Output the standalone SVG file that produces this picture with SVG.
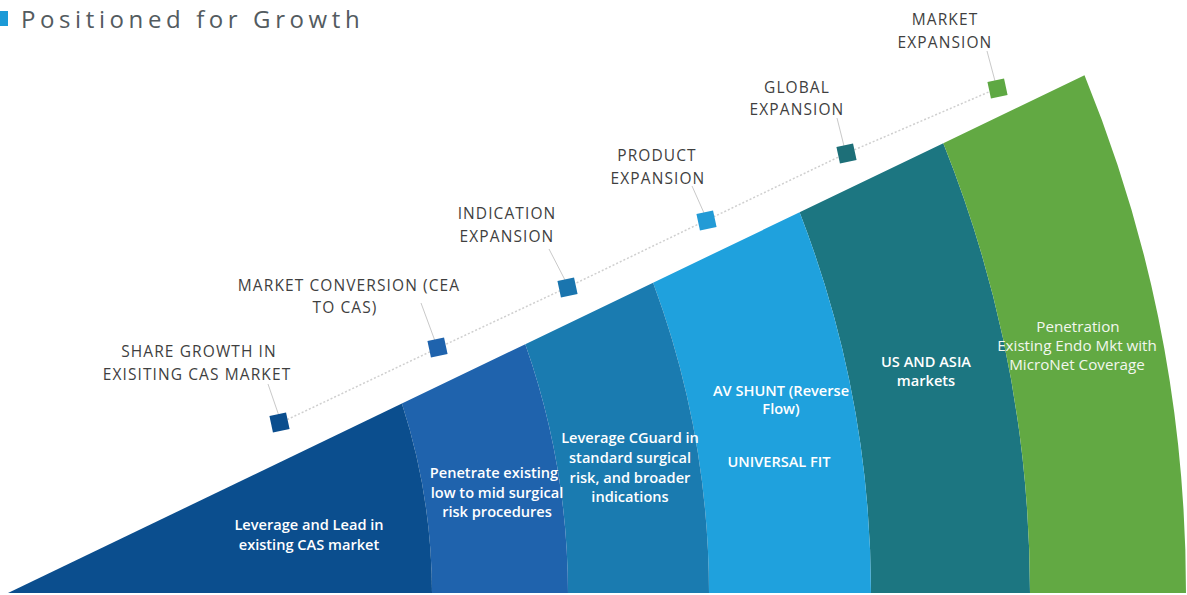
<svg xmlns="http://www.w3.org/2000/svg" width="1187" height="595" viewBox="0 0 1187 595">
  <style>
    .lbl { font-family: "Open Sans", "Liberation Sans", sans-serif; font-size: 15.5px; letter-spacing: 1.1px; fill: #3f3f3f; text-anchor: middle; }
    .inner { font-family: "Open Sans", "Liberation Sans", sans-serif; font-size: 14.6px; font-weight: 600; fill: #ffffff; text-anchor: middle; }
    .inner-light { font-family: "Open Sans", "Liberation Sans", sans-serif; font-size: 15.2px; fill: #f2f7ee; text-anchor: middle; }
    .leader { stroke: #c9c9c9; stroke-width: 1; fill: none; }
    .track { stroke: #cfcfcf; stroke-width: 1.5; stroke-dasharray: 2 2; fill: none; }
  </style>
  <rect width="1187" height="595" fill="#ffffff"/>

  <!-- title -->
  <g id="title">
    <rect x="0" y="11" width="8" height="15" fill="#1b9ad7"/>
    <text x="21" y="28" font-family="'Open Sans', 'Liberation Sans', sans-serif" font-size="24" letter-spacing="4.6" fill="#535b60">Positioned for Growth</text>
  </g>

  <!-- wedge segments: concentric arcs around (-185,594), cut by the rising diagonal.
       Order chosen so captions that run over a neighbouring band stay on top. -->
  <g id="seg-5">
    <path d="M 799.6 212.3 L 943.3 143.2 A 1215 1215 0 0 1 1030 593 L 871 593 A 1056 1056 0 0 0 799.6 212.3 Z" fill="#1c7681"/>
    <text class="inner" x="926" y="367">US AND ASIA</text>
    <text class="inner" x="926" y="386">markets</text>
  </g>
  <g id="seg-4">
    <path d="M 653.1 282.7 L 799.6 212.3 A 1056 1056 0 0 1 871 593 L 709 593 A 894 894 0 0 0 653.1 282.7 Z" fill="#1fa1dd"/>
    <text class="inner" x="781" y="396">AV SHUNT (Reverse</text>
    <text class="inner" x="781" y="414">Flow)</text>
    <text class="inner" x="779" y="467">UNIVERSAL FIT</text>
  </g>
  <g id="seg-3">
    <path d="M 525.3 344.2 L 653.1 282.7 A 894 894 0 0 1 709 593 L 568 593 A 753 753 0 0 0 525.3 344.2 Z" fill="#1a7bb0"/>
    <text class="inner" x="630" y="443">Leverage CGuard in</text>
    <text class="inner" x="630" y="463">standard surgical</text>
    <text class="inner" x="630" y="483">risk, and broader</text>
    <text class="inner" x="630" y="502">indications</text>
  </g>
  <g id="seg-2">
    <path d="M 401.9 403.6 L 525.3 344.2 A 753 753 0 0 1 568 593 L 432 593 A 617 617 0 0 0 401.9 403.6 Z" fill="#1f63ad"/>
    <text class="inner" x="494" y="478">Penetrate existing</text>
    <text class="inner" x="497" y="498">low to mid surgical</text>
    <text class="inner" x="497" y="517">risk procedures</text>
  </g>
  <g id="seg-1">
    <path d="M 8 593 L 401.9 403.6 A 617 617 0 0 1 432 593 Z" fill="#0b4e8e"/>
    <text class="inner" x="309" y="530">Leverage and Lead in</text>
    <text class="inner" x="309" y="550">existing CAS market</text>
  </g>
  <g id="seg-6">
    <path d="M 943.3 143.2 L 1084.5 75.2 A 1371 1371 0 0 1 1186 593 L 1030 593 A 1215 1215 0 0 0 943.3 143.2 Z" fill="#62a943"/>
    <text class="inner-light" x="1078" y="332">Penetration</text>
    <text class="inner-light" x="1077" y="351">Existing Endo Mkt with</text>
    <text class="inner-light" x="1077" y="370">MicroNet Coverage</text>
  </g>

  <!-- connectors: dotted track and label leaders -->
  <g id="connectors">
    <path class="track" d="M 280 423 L 438 348 L 568 287 L 707 220 L 847 153 L 998 88"/>
    <path class="leader" d="M 268 384 L 279 416"/>
    <path class="leader" d="M 421 303 L 435 341"/>
    <path class="leader" d="M 549 249 L 565 280"/>
    <path class="leader" d="M 692 186 L 704 213"/>
    <path class="leader" d="M 837 118 L 844 146"/>
    <path class="leader" d="M 987 51 L 995 81"/>
  </g>

  <!-- milestones -->
  <g id="ms-share-growth">
    <rect x="271" y="414" width="17" height="17" fill="#0b4e8e" transform="rotate(-12 279.5 422.5)"/>
    <text class="lbl" x="199" y="357">SHARE GROWTH IN</text>
    <text class="lbl" x="197" y="380">EXISITING CAS MARKET</text>
  </g>
  <g id="ms-market-conversion">
    <rect x="429" y="339" width="17" height="17" fill="#1f63ad" transform="rotate(-12 437.5 347.5)"/>
    <text class="lbl" x="349" y="291">MARKET CONVERSION (CEA</text>
    <text class="lbl" x="345" y="313">TO CAS)</text>
  </g>
  <g id="ms-indication">
    <rect x="559" y="279" width="17" height="17" fill="#1a75ae" transform="rotate(-12 567.5 287.5)"/>
    <text class="lbl" x="507" y="219">INDICATION</text>
    <text class="lbl" x="507" y="242">EXPANSION</text>
  </g>
  <g id="ms-product">
    <rect x="698" y="212" width="17" height="17" fill="#239bd6" transform="rotate(-12 706.5 220.5)"/>
    <text class="lbl" x="657" y="161">PRODUCT</text>
    <text class="lbl" x="658" y="184">EXPANSION</text>
  </g>
  <g id="ms-global">
    <rect x="838" y="145" width="17" height="17" fill="#1d6f78" transform="rotate(-12 846.5 153.5)"/>
    <text class="lbl" x="797" y="93">GLOBAL</text>
    <text class="lbl" x="797" y="115">EXPANSION</text>
  </g>
  <g id="ms-market-expansion">
    <rect x="989" y="80" width="17" height="17" fill="#5ea843" transform="rotate(-12 997.5 88.5)"/>
    <text class="lbl" x="945" y="25">MARKET</text>
    <text class="lbl" x="945" y="48">EXPANSION</text>
  </g>
</svg>
